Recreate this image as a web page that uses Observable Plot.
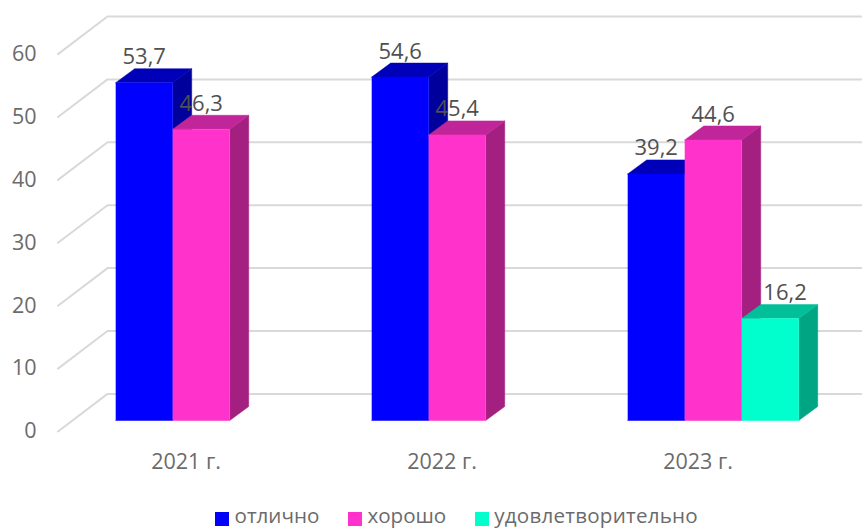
<!DOCTYPE html>
<html lang="ru">
<head>
<meta charset="utf-8">
<script src="https://cdn.jsdelivr.net/npm/d3@7"></script>
<script src="https://cdn.jsdelivr.net/npm/@observablehq/plot@0.6"></script>
<style>
  html, body { margin: 0; padding: 0; background: #fff; overflow: hidden; }
  #legend { display: flex; box-sizing: border-box; height: 27px; margin-top: -4px; padding-left: 215px; align-items: flex-start;
    font: 20.6px/normal "Open Sans", sans-serif; color: #6b6b6b; white-space: nowrap; position: relative; }
  #legend i { display: inline-block; width: 14px; height: 14px; margin-right: 5.5px; position: relative; top: 3.5px; }
  #legend span { display: flex; align-items: center; margin-right: 28.5px; }
  #legend span:last-child { letter-spacing: 0.22px; }
  svg { display: block; }
</style>
</head>
<body>
<div id="chart"></div>
<div id="legend"></div>
<script>
const categories = ["2021 г.", "2022 г.", "2023 г."];
const seriesNames = ["отлично", "хорошо", "удовлетворительно"];
const excellent = [53.7, 54.6, 39.2];
const good = [46.3, 45.4, 44.6];
const satisfactory = [null, null, 16.2];
const frontColors = ["#0000ff", "#ff33cc", "#00ffcc"];
const topColors = ["#0000b8", "#c02699", "#00bf99"];
const sideColors = ["#00009c", "#a31f80", "#00a583"];
const yTicks = [0, 10, 20, 30, 40, 50, 60];

// depth and bar geometry, in the units of the x (categories) and y (values) scales
const barStart = 0.2254, barWidth = 0.2227;
const depthX = 0.0742, depthY = 2.226;
const wallBackX = 0.1934, wallRightX = 3.143, wallBackY = 4.23, wallFrontY = -1.75;
const labelShiftX = {"2-2": 0.058};

const series = [excellent, good, satisfactory];
const faces = [];
const labels = [];
categories.forEach((c, i) => {
  series.forEach((vals, s) => {
    const v = vals[i];
    if (v == null) return;
    const x0 = i + barStart + s * barWidth, x1 = x0 + barWidth;
    const poly = (name, color, pts) => pts.forEach(([x, y]) =>
      faces.push({id: `${i}-${s}-${name}`, color, x, y}));
    poly("side", sideColors[s], [[x1, 0], [x1 + depthX, depthY], [x1 + depthX, v + depthY], [x1, v]]);
    poly("top", topColors[s], [[x0, v], [x0 + depthX, v + depthY], [x1 + depthX, v + depthY], [x1, v]]);
    poly("front", frontColors[s], [[x0, 0], [x1, 0], [x1, v], [x0, v]]);
    labels.push({x: (x0 + x1) / 2 + (labelShiftX[`${i}-${s}`] || 0), y: v, text: String(v).replace(".", ",")});
  });
});
const grid = yTicks.flatMap(t => [
  {t, x: 0, y: t + wallFrontY},
  {t, x: wallBackX, y: t + wallBackY},
  {t, x: wallRightX, y: t + wallBackY}
]);

const chart = Plot.plot({
  width: 862, height: 505,
  marginLeft: 57.5, marginRight: 36.5, marginTop: 42.6, marginBottom: 85,
  x: {domain: [0, 3]},
  y: {domain: [0, 60]},
  color: {type: "identity"},
  style: {fontFamily: "'Open Sans', sans-serif", fontSize: "20px", background: "#fff", color: "#6b6b6b", overflow: "visible"},
  marks: [
    Plot.line(grid, {x: "x", y: "y", z: "t", stroke: "#d9d9d9", strokeWidth: 2, curve: "linear"}),
    Plot.line(faces, {x: "x", y: "y", z: "id", fill: "color", stroke: "color", strokeWidth: 0.5, curve: "linear"}),
    Plot.axisY({ticks: yTicks, tickSize: 0, tickPadding: 21.5, dy: 11, label: null, fontSize: 21.5}),
    Plot.axisX({ticks: [0.5, 1.5, 2.5], tickFormat: d => categories[Math.floor(d)], tickSize: 0, tickPadding: 33, dx: 0, label: null, fontSize: 21.5}),
    Plot.text(labels, {x: "x", y: "y", text: "text", dy: -25.5, fontSize: 22, fill: "#505050"})
  ]
});
document.getElementById("chart").append(chart);

const legend = document.getElementById("legend");
seriesNames.forEach((n, s) => {
  const el = document.createElement("span");
  const sw = document.createElement("i");
  sw.style.background = frontColors[s];
  el.append(sw, n);
  legend.append(el);
});
</script>
</body>
</html>
